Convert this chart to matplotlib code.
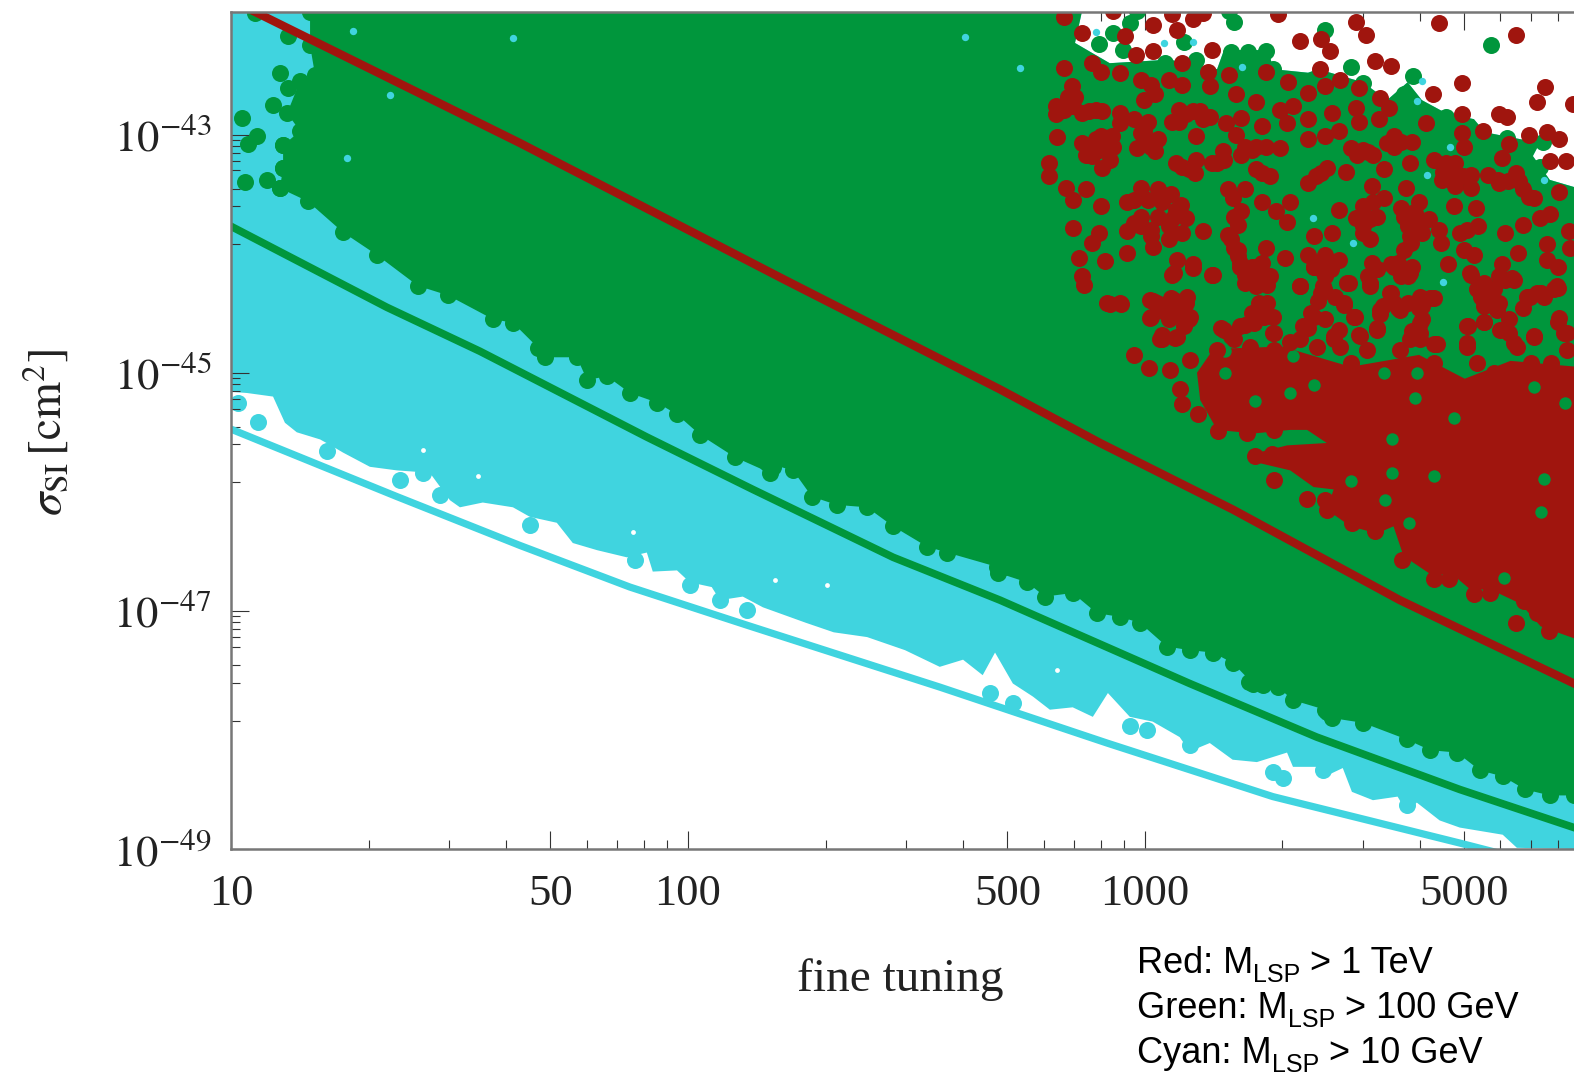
import numpy as np
import matplotlib
matplotlib.use("Agg")
import matplotlib.pyplot as plt
from matplotlib.ticker import FixedLocator, FixedFormatter, NullFormatter

# everything below is (log10 fine tuning, log10 sigma_SI)
red_line = [(1.053, -41.97), (1.632, -43.07), (2.212, -44.22), (2.683, -45.14), (2.902, -45.59),
            (3.193, -46.15), (3.558, -46.91), (3.939, -47.61)]
green_line = [(1.000, -43.77), (1.341, -44.45), (1.545, -44.82), (1.910, -45.54), (2.142, -45.98),
              (2.449, -46.55), (2.683, -46.91), (3.098, -47.61), (3.376, -48.06), (3.689, -48.50),
              (3.939, -48.82)]
cyan_line = [(1.004, -45.48), (1.363, -46.04), (1.632, -46.45), (1.873, -46.80), (2.129, -47.12),
             (2.551, -47.64), (2.917, -48.11), (3.280, -48.56), (3.689, -48.95), (3.770, -49.03)]

# upper edge of the cloud, shared by green and cyan
upper_edge = [(1.000, -41.97), (2.862, -41.97), (2.847, -42.23), (2.923, -42.40), (3.053, -42.37),
              (3.158, -42.45), (3.173, -42.29), (3.271, -42.29), (3.280, -42.45), (3.357, -42.48),
              (3.379, -42.45), (3.477, -42.56), (3.530, -42.71), (3.575, -42.56), (3.606, -42.71),
              (3.659, -42.82), (3.720, -42.87), (3.744, -42.98), (3.864, -43.07), (3.849, -43.18),
              (3.886, -43.38), (3.939, -43.44)]

# lower edge of the green points, left to right
green_edge = [(1.173, -41.97), (1.173, -42.25), (1.184, -42.50), (1.151, -42.55), (1.123, -42.82),
              (1.151, -42.97), (1.114, -43.09), (1.114, -43.28), (1.107, -43.45), (1.168, -43.56),
              (1.245, -43.82), (1.319, -44.01), (1.409, -44.27), (1.475, -44.35), (1.573, -44.55),
              (1.617, -44.58), (1.672, -44.79), (1.687, -44.87), (1.757, -44.87), (1.779, -45.06),
              (1.823, -45.03), (1.873, -45.17), (1.932, -45.25), (1.976, -45.35), (2.026, -45.52),
              (2.103, -45.71), (2.179, -45.84), (2.173, -45.76), (2.230, -45.82), (2.271, -46.04),
              (2.326, -46.11), (2.392, -46.13), (2.449, -46.29), (2.523, -46.46), (2.567, -46.51),
              (2.676, -46.63), (2.678, -46.68), (2.742, -46.76), (2.781, -46.88), (2.842, -46.85),
              (2.895, -47.02), (2.945, -47.05), (2.989, -47.10), (3.048, -47.30), (3.098, -47.33),
              (3.149, -47.35), (3.193, -47.44), (3.236, -47.61), (3.291, -47.64), (3.324, -47.75),
              (3.394, -47.83), (3.409, -47.90), (3.477, -47.94), (3.573, -48.08), (3.624, -48.17),
              (3.683, -48.19), (3.733, -48.34), (3.783, -48.39), (3.832, -48.50), (3.886, -48.55),
              (3.939, -48.55)]

# lower edge of the cyan cloud, left to right
cyan_edge = [(1.000, -45.16), (1.035, -45.17), (1.092, -45.20), (1.118, -45.42), (1.144, -45.50),
             (1.195, -45.56), (1.223, -45.62), (1.245, -45.67), (1.304, -45.79), (1.363, -45.82),
             (1.435, -45.84), (1.479, -46.07), (1.501, -46.13), (1.551, -46.09), (1.617, -46.13),
             (1.654, -46.21), (1.713, -46.26), (1.748, -46.43), (1.801, -46.49), (1.866, -46.55),
             (1.910, -46.51), (1.923, -46.67), (1.976, -46.66), (2.004, -46.76), (2.052, -46.80),
             (2.070, -46.91), (2.120, -46.88), (2.164, -46.97), (2.258, -47.10), (2.319, -47.18),
             (2.392, -47.22), (2.475, -47.33), (2.551, -47.47), (2.602, -47.41), (2.645, -47.54),
             (2.672, -47.35), (2.711, -47.61), (2.755, -47.72), (2.792, -47.83), (2.842, -47.81),
             (2.886, -47.89), (2.919, -47.69), (2.967, -47.89), (3.017, -47.93), (3.076, -48.06),
             (3.098, -48.18), (3.142, -48.11), (3.192, -48.25), (3.245, -48.27), (3.311, -48.19),
             (3.324, -48.31), (3.376, -48.31), (3.389, -48.40), (3.433, -48.32), (3.453, -48.52),
             (3.499, -48.59), (3.553, -48.56), (3.573, -48.69), (3.595, -48.61), (3.645, -48.76),
             (3.689, -48.82), (3.783, -48.88), (3.814, -48.99), (3.939, -49.0)]

cyan_points = [(1.015, -45.25), (1.059, -45.41), (1.210, -45.66), (1.370, -45.90), (1.420, -45.84),
               (1.457, -46.03), (1.654, -46.28), (1.884, -46.57), (2.004, -46.78), (2.070, -46.91),
               (2.129, -46.99), (2.661, -47.69), (2.711, -47.77), (2.967, -47.97), (3.004, -48.00),
               (3.098, -48.13), (3.280, -48.35), (3.302, -48.40), (3.389, -48.34), (3.573, -48.63)]

green_points = [(3.196, -42.05), (3.393, -42.12), (3.450, -42.43), (3.758, -42.25), (3.587, -42.51),
                (3.568, -42.66), (2.900, -42.24), (2.930, -42.15), (2.968, -42.06), (3.086, -42.22),
                (2.953, -42.29), (3.264, -42.30), (3.226, -42.31), (3.188, -42.31), (3.112, -42.37),
                (3.659, -42.85), (3.792, -43.03), (3.872, -43.06), (3.864, -43.27), (3.822, -43.18),
                (3.280, -42.45), (3.477, -42.57), (2.983, -41.96), (3.185, -41.96), (3.044, -42.40),
                (1.107, -42.48), (1.125, -42.61), (1.162, -42.60), (1.092, -42.75), (1.024, -42.86),
                (1.057, -43.01), (1.037, -43.08), (1.114, -43.09), (1.114, -43.28), (1.031, -43.40),
                (1.079, -43.38), (1.107, -43.45), (1.125, -42.17), (1.053, -41.98), (3.228, -47.60),
                (3.398, -47.85), (3.258, -47.62), (2.186, -45.79), (2.691, -46.63)]

cyan_specks = [(1.267, -42.13), (1.348, -42.67), (1.254, -43.20), (1.617, -42.19), (2.606, -42.18),
               (2.726, -42.44), (2.893, -42.14), (3.042, -42.23), (3.105, -42.22), (3.212, -42.43),
               (3.606, -42.55), (3.595, -42.72), (3.617, -43.34), (3.652, -44.24), (3.455, -43.91),
               (3.368, -43.70), (3.873, -43.38), (3.667, -43.10), (3.661, -45.14), (3.825, -45.49),
               (3.442, -45.90), (3.866, -45.82)]

white_specks = [(1.420, -45.65), (1.540, -45.87), (1.880, -46.34), (2.190, -46.74), (2.304, -46.78),
                (2.807, -47.50)]

# dense part of the red cloud
red_core = [(3.150, -44.80), (3.114, -45.00), (3.121, -45.23), (3.158, -45.48), (3.238, -45.51),
            (3.318, -45.48), (3.355, -45.48), (3.398, -45.59), (3.311, -45.61), (3.238, -45.68),
            (3.252, -45.76), (3.318, -45.82), (3.369, -45.96), (3.413, -45.98), (3.398, -46.15),
            (3.450, -46.29), (3.508, -46.35), (3.544, -46.29), (3.566, -46.54), (3.632, -46.71),
            (3.669, -46.68), (3.712, -46.82), (3.756, -46.82), (3.822, -46.94), (3.866, -47.13),
            (3.946, -47.24), (3.946, -44.95), (3.800, -44.90), (3.700, -45.05), (3.600, -44.85),
            (3.450, -44.95), (3.300, -44.78)]

# gaps in the red cloud where green shows through
green_holes = [(3.325, -44.86), (3.523, -45.00), (3.596, -45.00), (3.676, -45.38), (3.920, -45.25),
               (3.541, -45.56), (3.632, -45.87), (3.541, -45.84), (3.450, -45.91), (3.526, -46.07),
               (3.577, -46.26), (3.785, -46.72), (3.866, -46.17), (3.873, -45.89), (3.778, -44.72),
               (3.369, -45.10), (3.318, -45.17), (3.241, -45.24), (3.176, -45.00), (3.176, -44.82),
               (3.592, -45.21), (3.851, -45.12), (3.661, -44.86)]

red_points = [
    (2.823, -42.01), (2.930, -41.96), (3.059, -41.99), (3.128, -41.98), (3.105, -42.03), (3.291, -41.99),
    (3.462, -42.05), (3.484, -42.16), (3.644, -42.06), (3.811, -42.16), (3.017, -42.08), (3.071, -42.12),
    (2.862, -42.15), (2.957, -42.17), (3.340, -42.21), (3.386, -42.20), (3.405, -42.30), (3.147, -42.29),
    (3.017, -42.30), (2.980, -42.33), (2.885, -42.40), (2.824, -42.44), (2.904, -42.47), (2.946, -42.48),
    (3.082, -42.40), (3.504, -42.38), (3.538, -42.42), (3.384, -42.45), (3.264, -42.47), (3.185, -42.50),
    (3.139, -42.47), (3.314, -42.56), (3.428, -42.54), (3.694, -42.57), (3.876, -42.60), (3.630, -42.66),
    (3.469, -42.61), (3.858, -42.73), (3.937, -42.74), (3.775, -42.83), (3.793, -42.85), (2.840, -42.59),
    (2.992, -42.54), (3.014, -42.58), (3.052, -42.54), (3.082, -42.58), (3.143, -42.59), (3.356, -42.65),
    (3.394, -42.59), (3.200, -42.66), (3.515, -42.69), (3.243, -42.73), (3.022, -42.66), (2.805, -42.76),
    (2.805, -42.83), (2.843, -42.76), (2.877, -42.80), (2.907, -42.80), (2.946, -42.82), (2.999, -42.71),
    (2.976, -42.87), (3.006, -42.89), (3.075, -42.79), (3.059, -42.89), (3.120, -42.80), (3.090, -42.83),
    (3.143, -42.85), (3.177, -42.90), (3.211, -42.86), (3.295, -42.79), (3.325, -42.76), (3.310, -42.90),
    (3.356, -42.87), (3.257, -42.93), (3.409, -42.82), (3.462, -42.78), (3.469, -42.89), (3.512, -42.87),
    (3.535, -42.78), (3.615, -42.90), (3.694, -42.83), (3.694, -42.99), (3.739, -42.97), (3.840, -43.00),
    (3.881, -42.98), (3.906, -43.04), (3.796, -43.08), (2.808, -43.02), (2.862, -43.07), (2.893, -43.04),
    (2.927, -43.01), (2.946, -42.90), (2.992, -42.99), (3.112, -43.01), (3.200, -43.00), (3.356, -43.04),
    (3.394, -43.01), (3.424, -42.97), (2.870, -43.17), (2.912, -43.11), (2.983, -43.11), (3.029, -43.04),
    (3.022, -43.14), (3.243, -43.10), (3.295, -43.11), (3.211, -43.17), (3.450, -43.11), (3.477, -43.13),
    (3.500, -43.17), (3.546, -43.01), (3.584, -43.06), (3.546, -43.10), (3.698, -43.10), (3.781, -43.20),
    (2.790, -43.24), (2.790, -43.35), (2.907, -43.28), (2.923, -43.21), (3.067, -43.24), (3.112, -43.21),
    (3.109, -43.32), (3.158, -43.24), (3.170, -43.14), (3.243, -43.29), (3.273, -43.35), (3.398, -43.28),
    (3.375, -43.35), (3.356, -43.41), (3.439, -43.31), (3.523, -43.29), (3.580, -43.24), (3.633, -43.21),
    (3.653, -43.31), (3.679, -43.24), (3.714, -43.34), (3.751, -43.34), (3.811, -43.32), (3.887, -43.22),
    (3.921, -43.22), (2.828, -43.45), (2.870, -43.46), (2.843, -43.55), (2.992, -43.45), (3.029, -43.46),
    (3.056, -43.50), (2.960, -43.57), (2.904, -43.60), (3.181, -43.46), (3.219, -43.46), (3.192, -43.53),
    (3.257, -43.57), (3.318, -43.57), (3.496, -43.43), (3.572, -43.45), (3.523, -43.53), (3.679, -43.43),
    (3.714, -43.45), (3.775, -43.41), (3.827, -43.46), (3.851, -43.53), (3.906, -43.48), (3.079, -43.59),
    (3.724, -43.62), (3.676, -43.60), (3.211, -43.64), (3.287, -43.64), (3.424, -43.63), (3.477, -43.60),
    (3.561, -43.62), (3.599, -43.57), (3.584, -43.66), (3.090, -43.70), (3.059, -43.71), (2.992, -43.69),
    (2.960, -43.81), (2.843, -43.78), (3.310, -43.73), (3.462, -43.70), (3.508, -43.69), (3.607, -43.74),
    (3.887, -43.67), (3.864, -43.70), (3.827, -43.76), (2.900, -43.83), (2.885, -43.91), (3.014, -43.80),
    (3.128, -43.81), (3.082, -43.83), (3.052, -43.88), (3.017, -43.94), (3.181, -43.84), (3.204, -43.76),
    (3.644, -43.80), (3.728, -43.77), (3.690, -43.83), (3.371, -43.85), (3.409, -43.83), (3.477, -43.77),
    (3.492, -43.88), (3.580, -43.85), (3.789, -43.83), (3.927, -43.81), (3.648, -43.91), (3.568, -43.97),
    (3.880, -43.92), (2.960, -43.99), (3.264, -43.95), (3.204, -43.97), (3.698, -43.97), (3.721, -44.01),
    (3.817, -43.99), (3.930, -43.95), (2.855, -44.04), (2.912, -44.06), (3.071, -44.05), (3.105, -44.09),
    (3.306, -44.04), (3.356, -44.01), (3.394, -44.01), (3.424, -44.05), (3.880, -44.05), (3.208, -44.08),
    (3.496, -44.08), (3.538, -44.09), (3.584, -44.11), (3.664, -44.09), (3.781, -44.09), (3.903, -44.11),
    # band just above the dense part
    (3.063, -44.16), (3.106, -44.12), (3.150, -44.18), (3.209, -44.11), (3.245, -44.19), (3.267, -44.26),
    (3.340, -44.27), (3.369, -44.11), (3.406, -44.11), (3.391, -44.30), (3.442, -44.25), (3.435, -44.41),
    (3.493, -44.25), (3.508, -44.13), (3.544, -44.11), (3.581, -44.16), (3.537, -44.33), (3.603, -44.36),
    (3.632, -44.37), (3.515, -44.47), (3.559, -44.47), (3.460, -44.53), (3.712, -44.16), (3.727, -44.30),
    (3.749, -44.39), (3.771, -44.47), (3.742, -44.57), (3.807, -44.22), (3.836, -44.36), (3.866, -44.33),
    (3.902, -44.27), (3.906, -44.54), (3.851, -44.69), (3.807, -44.75), (3.778, -44.64), (3.924, -44.67),
    (3.639, -44.76), (3.705, -44.61), (3.705, -44.75), (3.603, -44.58), (3.603, -44.67), (3.508, -44.64),
    (3.471, -44.69), (3.581, -44.72), (3.369, -44.53), (3.347, -44.61), (3.318, -44.74), (3.413, -44.69),
    (3.428, -44.78), (3.267, -44.41), (3.260, -44.53), (3.238, -44.58), (3.282, -44.67), (3.172, -44.64),
    (3.209, -44.61), (3.012, -44.39), (3.026, -44.41), (3.063, -44.39), (3.092, -44.36), (3.099, -44.53),
    (3.012, -44.54), (3.048, -44.51), (3.085, -44.61), (3.037, -44.72), (3.066, -44.71), (2.917, -44.41),
    (2.946, -44.41), (3.231, -44.78), (3.282, -44.81), (3.377, -44.78), (3.413, -44.72), (3.450, -44.92),
    (3.486, -44.81), (3.559, -44.81), (3.603, -44.72), (3.705, -44.78), (3.727, -44.92), (3.815, -44.78),
    (3.851, -44.70), (3.888, -44.92), (3.924, -44.81), (3.632, -44.92), (3.340, -44.72), (3.194, -44.72),
    (3.158, -44.81), (3.763, -45.00), (3.844, -44.92),
    (2.862, -44.19), (2.866, -44.26), (3.147, -44.18), (3.059, -44.18), (3.243, -44.11), (3.219, -44.18),
    (3.273, -44.19), (3.386, -44.13), (3.489, -44.19), (3.576, -44.19), (3.714, -44.18), (3.775, -44.19),
    (3.804, -44.20), (3.243, -44.27), (3.340, -44.27), (3.390, -44.27), (3.447, -44.25), (3.492, -44.27),
    (3.735, -44.27), (3.903, -44.29), (3.538, -44.33), (2.923, -44.42), (2.947, -44.42), (3.017, -44.40),
    (3.056, -44.37), (3.090, -44.41), (3.416, -44.36), (3.436, -44.43), (3.623, -44.37), (3.599, -44.46),
    (3.743, -44.36), (3.842, -44.36), (3.873, -44.36), (3.775, -44.41), (3.250, -44.41), (3.014, -44.53),
    (3.067, -44.50), (3.097, -44.55), (3.234, -44.50), (3.280, -44.53), (3.363, -44.50), (3.394, -44.55),
    (3.515, -44.51), (3.554, -44.46), (3.607, -44.55), (3.458, -44.53), (3.827, -44.46), (3.743, -44.57),
    (3.796, -44.55), (3.903, -44.57), (3.166, -44.62), (3.219, -44.60), (3.706, -44.61), (3.037, -44.68),
    (3.280, -44.67), (3.356, -44.62), (3.424, -44.64), (3.469, -44.68), (3.508, -44.62), (3.584, -44.65),
    (3.796, -44.67), (3.917, -44.67), (3.189, -44.69),
    # overlapping chains in the upper cloud
    (2.824, -42.79), (2.862, -42.82), (2.892, -42.79), (3.105, -42.80), (3.074, -42.89), (3.128, -42.87),
    (2.831, -42.68), (2.847, -42.68), (2.877, -43.10), (2.904, -43.01), (2.900, -43.13), (2.885, -43.18),
    (2.930, -43.10), (2.998, -43.07), (2.998, -42.97), (3.014, -43.10), (3.082, -43.27), (3.097, -43.29),
    (3.146, -43.24), (3.173, -43.21), (3.219, -43.10), (3.264, -43.10), (3.234, -43.13), (3.257, -43.32),
    (3.386, -43.32), (3.465, -43.17), (3.488, -43.15), (3.530, -43.07), (3.560, -43.06), (3.659, -43.24),
    (3.674, -43.32), (3.697, -43.35), (3.651, -43.38), (3.773, -43.38), (3.795, -43.39), (3.818, -43.39),
    (3.841, -43.52), (3.568, -43.69), (3.590, -43.66), (3.575, -43.77), (3.621, -43.71), (3.606, -43.83),
    (3.583, -43.91), (3.378, -44.08), (3.401, -44.08), (3.370, -44.11), (3.393, -44.19), (3.408, -44.13),
    (3.386, -44.33), (3.378, -44.40), (3.257, -44.08), (3.234, -44.19), (3.257, -44.25), (3.219, -44.25),
    (3.234, -44.11), (3.188, -43.88), (3.196, -43.95), (3.203, -44.02), (3.036, -44.44), (3.067, -44.41),
    (3.082, -44.47), (3.052, -44.55), (3.029, -44.47), (3.545, -44.41), (3.576, -44.41), (3.606, -44.44),
    (3.522, -44.44), (2.976, -43.55), (3.006, -43.55), (3.037, -43.57), (3.067, -43.63), (3.029, -43.69),
    (3.052, -43.77), (3.014, -43.85), (2.976, -43.74), (2.991, -43.77), (3.743, -44.25), (3.765, -44.30),
    (3.788, -44.22), (3.735, -44.36), (3.743, -44.44), (3.857, -44.33), (3.895, -44.30), (3.507, -44.13),
    (3.553, -44.08), (3.560, -44.19), (3.705, -43.80), (3.196, -43.69), (3.477, -43.66), (3.492, -43.71),
    (3.500, -43.57), (3.477, -43.83),
    # edge of the dense part
    (2.977, -44.85), (3.008, -44.96), (3.055, -44.98), (3.099, -44.89), (3.077, -45.14), (3.081, -45.26),
    (3.117, -45.35), (3.161, -45.49), (3.223, -45.51), (3.282, -45.48), (3.241, -45.70), (3.278, -45.68),
    (3.282, -45.90), (3.355, -46.06), (3.395, -46.07), (3.398, -46.15), (3.453, -46.26), (3.504, -46.33),
    (3.563, -46.57), (3.632, -46.73), (3.665, -46.73), (3.720, -46.86), (3.756, -46.85), (3.829, -46.92),
    (3.858, -47.02), (3.811, -47.10), (3.884, -47.17), (3.033, -44.72), (3.070, -44.70), (3.632, -44.76),
]

x_major = [10, 50, 100, 500, 1000, 5000]
x_minor = [20, 30, 40, 60, 70, 80, 90, 200, 300, 400, 600, 700, 800, 900, 2000, 3000, 4000, 6000, 7000, 8000]
y_major = [1e-49, 1e-47, 1e-45, 1e-43]
y_labels = ["$10^{-49}$", "$10^{-47}$", "$10^{-45}$", "$10^{-43}$"]
y_minor_mant = [9, 8, 7, 6, 5, 3.5, 2.5, 1.2]
y_minor_exp = [-44, -46, -48]
legend_head = ["Red: M", "Green: M", "Cyan: M"]
legend_tail = ["> 1 TeV", "> 100 GeV", "> 10 GeV"]

CYAN = "#40d4df"
GREEN = "#00963c"
RED = "#a0150e"
TEXT = "#222222"
MARKER = 150


def to_xy(points):
    arr = np.array(points)
    return 10.0 ** arr[:, 0], 10.0 ** arr[:, 1]


plt.rcParams["font.family"] = "Liberation Serif"
plt.rcParams["mathtext.fontset"] = "stix"

W, H = 1574, 1076
fig = plt.figure(figsize=(W / 100, H / 100), dpi=100)
ax = fig.add_axes([231 / W, 1 - 849 / H, (W - 231) / W, (849 - 12) / H])
ax.set_xscale("log")
ax.set_yscale("log")
ax.set_xlim(10, 10 ** 3.939)
ax.set_ylim(1e-49, 10 ** -41.97)

# cloud layers, back to front
ax.fill(*to_xy(upper_edge + cyan_edge[::-1]), color=CYAN, lw=0, zorder=1)
ax.scatter(*to_xy(cyan_points), s=MARKER, color=CYAN, lw=0, zorder=1.1)
ax.scatter(*to_xy(white_specks), s=12, color="white", lw=0, zorder=1.2)
ax.fill(*to_xy(upper_edge + green_edge[::-1]), color=GREEN, lw=0, zorder=2)
ax.scatter(*to_xy(green_edge), s=MARKER, color=GREEN, lw=0, zorder=2.1)
ax.scatter(*to_xy(green_points), s=MARKER, color=GREEN, lw=0, zorder=2.1)
ax.scatter(*to_xy(cyan_specks), s=28, color=CYAN, lw=0, zorder=2.2)
ax.fill(*to_xy(red_core), color=RED, lw=0, zorder=3)
ax.scatter(*to_xy(green_holes), s=80, color=GREEN, lw=0, zorder=3.1)
ax.scatter(*to_xy(red_points), s=MARKER, color=RED, lw=0, zorder=3.3)

ax.plot(*to_xy(cyan_line), color=CYAN, lw=5.2, zorder=4)
ax.plot(*to_xy(green_line), color=GREEN, lw=5.5, zorder=4)
ax.plot(*to_xy(red_line), color=RED, lw=6, zorder=4)

for side in ["left", "bottom", "top"]:
    ax.spines[side].set_color("#777777")
    ax.spines[side].set_linewidth(1.8)
    ax.spines[side].set_zorder(5)
ax.spines["right"].set_visible(False)

ax.xaxis.set_major_locator(FixedLocator(x_major))
ax.xaxis.set_major_formatter(FixedFormatter([str(v) for v in x_major]))
ax.xaxis.set_minor_locator(FixedLocator(x_minor))
ax.xaxis.set_minor_formatter(NullFormatter())
ax.yaxis.set_major_locator(FixedLocator(y_major))
ax.yaxis.set_major_formatter(FixedFormatter(y_labels))
ax.yaxis.set_minor_locator(FixedLocator([m * 10.0 ** e for e in y_minor_exp for m in y_minor_mant]))
ax.yaxis.set_minor_formatter(NullFormatter())

ax.tick_params(which="major", direction="in", length=13, width=0.8, color="#333333", top=True,
               labelcolor=TEXT, labelsize=32, pad=14, zorder=6)
ax.tick_params(which="minor", direction="in", length=6.5, width=0.8, color="#333333", top=True, zorder=6)
ax.tick_params(axis="x", which="major", pad=18)

fig.text(900 / W, 1 - 980 / H, "fine tuning", fontsize=34, color=TEXT, ha="center", va="center")
fig.text(47 / W, 1 - 432 / H, r"$\sigma_{\mathrm{SI}}\,[\mathrm{cm}^2]$", fontsize=34, color=TEXT,
         rotation=90, ha="center", va="center")

# legend is put together piece by piece so the subscript stays in the sans font
renderer = fig.canvas.get_renderer()
for head, tail, base in zip(legend_head, legend_tail, [973, 1018, 1063]):
    t1 = fig.text(1137 / W, 1 - base / H, head, fontsize=26, family="Liberation Sans", va="baseline")
    x1 = t1.get_window_extent(renderer).x1
    t2 = fig.text(x1 / W, 1 - (base + 9) / H, "LSP", fontsize=18, family="Liberation Sans", va="baseline")
    x2 = t2.get_window_extent(renderer).x1
    fig.text((x2 + 10) / W, 1 - base / H, tail, fontsize=26, family="Liberation Sans", va="baseline")

fig.savefig("out.png", dpi=100)
